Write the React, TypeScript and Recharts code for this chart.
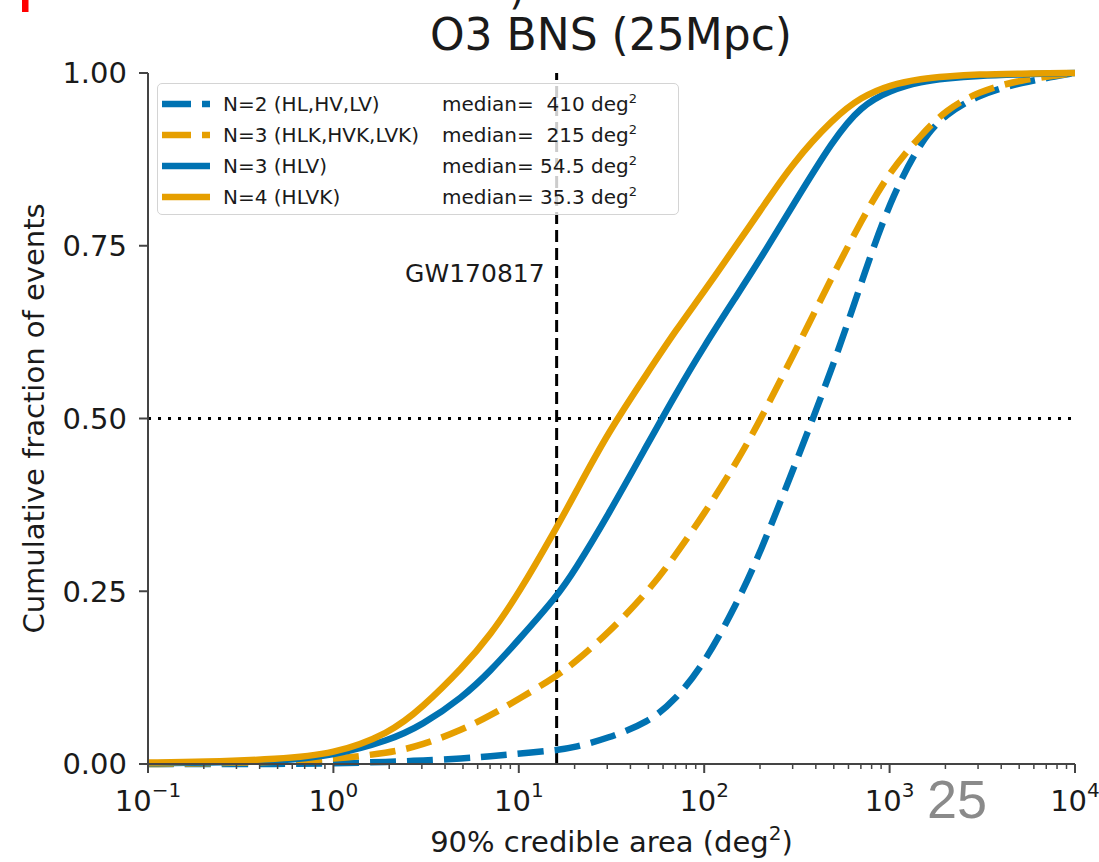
import React from "react"
import {
  LineChart,
  Line,
  XAxis,
  YAxis,
  ReferenceLine,
  Legend,
} from "recharts"

// 90% credible area (deg^2), sampled on the log axis
const areas = [0.1, 0.2, 0.5, 1, 2, 3, 5, 7, 10, 16, 20, 30, 50, 70, 100, 150, 200, 300, 500, 700, 1000, 1500, 2000, 3000, 5000, 10000]

// cumulative fraction of events
const twoDet = [0, 0, 0, 0.001, 0.003, 0.005, 0.008, 0.011, 0.015, 0.02, 0.024, 0.037, 0.06, 0.093, 0.145, 0.232, 0.305, 0.424, 0.578, 0.695, 0.815, 0.905, 0.94, 0.968, 0.986, 1.0]
const threeDetK = [0, 0.001, 0.003, 0.007, 0.016, 0.027, 0.05, 0.07, 0.094, 0.127, 0.147, 0.188, 0.25, 0.302, 0.362, 0.437, 0.497, 0.59, 0.71, 0.785, 0.858, 0.912, 0.946, 0.973, 0.99, 1.0]
const threeDet = [0.001, 0.002, 0.004, 0.012, 0.034, 0.056, 0.097, 0.134, 0.18, 0.242, 0.28, 0.358, 0.465, 0.535, 0.605, 0.678, 0.73, 0.808, 0.905, 0.952, 0.975, 0.988, 0.992, 0.996, 0.998, 1.0]
const fourDet = [0.002, 0.003, 0.007, 0.014, 0.044, 0.081, 0.14, 0.186, 0.247, 0.342, 0.39, 0.478, 0.568, 0.627, 0.684, 0.752, 0.8, 0.87, 0.935, 0.965, 0.983, 0.992, 0.995, 0.998, 0.999, 1.0]

const seriesNames = ["N=2 (HL,HV,LV)", "N=3 (HLK,HVK,LVK)", "N=3 (HLV)", "N=4 (HLVK)"]
const medians = ["410", "215", "54.5", "35.3"]

const decadeTicks = [0.1, 1, 10, 100, 1000, 10000]
const decadeExps = ["\u22121", "0", "1", "2", "3", "4"]
const yTicks = [0, 0.25, 0.5, 0.75, 1]
const gwArea = 16

const minorTicks = decadeTicks.slice(0, -1).flatMap((d) =>
  [2, 3, 4, 5, 6, 7, 8, 9].map((m) => m * d)
)

const data = areas.map((a, i) => ({
  area: a,
  twoDet: twoDet[i],
  threeDetK: threeDetK[i],
  threeDet: threeDet[i],
  fourDet: fourDet[i],
}))

const BLUE = "#0072B2"
const ORANGE = "#E69F00"
const INK = "#1a1a1a"
const FRAME = "#444"
const FONT = "DejaVu Sans, sans-serif"

const series = [
  { key: "twoDet", color: BLUE, dash: "26 11" },
  { key: "threeDetK", color: ORANGE, dash: "26 11" },
  { key: "threeDet", color: BLUE, dash: undefined },
  { key: "fourDet", color: ORANGE, dash: undefined },
]

function AreaTick(props: any) {
  const { x, y, payload } = props
  const i = decadeTicks.indexOf(payload.value)
  if (i < 0) {
    return <line x1={x} x2={x} y1={y} y2={y + 5} stroke={FRAME} strokeWidth={1.5} />
  }
  return (
    <g>
      <line x1={x} x2={x} y1={y} y2={y + 9} stroke={FRAME} strokeWidth={2} />
      <text x={x} y={y + 47} textAnchor="middle" fontSize={29} fill={INK} fontFamily={FONT}>
        10
        <tspan dy={-14} fontSize={20}>
          {decadeExps[i]}
        </tspan>
      </text>
    </g>
  )
}

function XLabel(props: any) {
  const vb = props.viewBox
  return (
    <text x={vb.x + vb.width / 2} y={vb.y + 88} textAnchor="middle" fontSize={29} fill={INK} fontFamily={FONT}>
      90% credible area (deg
      <tspan dy={-12} fontSize={20}>2</tspan>
      <tspan dy={12}>)</tspan>
    </text>
  )
}

function YLabel(props: any) {
  const vb = props.viewBox
  const cy = vb.y + vb.height / 2
  return (
    <text x={44} y={cy} transform={`rotate(-90, 44, ${cy})`} textAnchor="middle" fontSize={29} fill={INK} fontFamily={FONT}>
      Cumulative fraction of events
    </text>
  )
}

function GwLabel(props: any) {
  const vb = props.viewBox
  return (
    <text x={vb.x - 12} y={vb.y + 209} textAnchor="end" fontSize={25} fill={INK} fontFamily={FONT}>
      GW170817
    </text>
  )
}

function LegendBox() {
  return (
    <div
      style={{
        width: 522,
        height: 132,
        boxSizing: "border-box",
        border: "1.5px solid #d4d4d4",
        borderRadius: 5,
        background: "rgba(255,255,255,0.8)",
        fontFamily: FONT,
        fontSize: 20,
        color: INK,
        position: "relative",
      }}
    >
      {series.map((s, i) => (
        <div key={s.key} style={{ position: "absolute", left: 0, top: 5 + i * 31, height: 30, width: "100%", lineHeight: "30px" }}>
          <svg width={60} height={30} style={{ position: "absolute", left: 0, top: 0 }}>
            <line x1={4} x2={52} y1={15} y2={15} stroke={s.color} strokeWidth={6.5} strokeDasharray={s.dash ? "29 11" : undefined} />
          </svg>
          <span style={{ position: "absolute", left: 65, top: 0, whiteSpace: "pre" }}>{seriesNames[i]}</span>
          <span style={{ position: "absolute", left: 284, top: 0, whiteSpace: "pre" }}>
            {"median= " + medians[i].padStart(4) + " deg"}
            <span style={{ fontSize: 13, position: "relative", top: -8 }}>2</span>
          </span>
        </div>
      ))}
    </div>
  )
}

export default function App() {
  return (
    <div style={{ position: "absolute", left: 0, top: 0, width: 1099, height: 862 }}>
      <LineChart width={1099} height={862} data={data} margin={{ top: 73, right: 24, bottom: 0, left: 0 }}>
        <XAxis
          dataKey="area"
          type="number"
          scale="log"
          domain={[0.1, 10000]}
          allowDataOverflow
          ticks={[...decadeTicks, ...minorTicks]}
          interval={0}
          tick={<AreaTick />}
          tickLine={false}
          tickSize={0}
          tickMargin={0}
          height={98}
          axisLine={{ stroke: FRAME, strokeWidth: 2 }}
          label={<XLabel />}
        />
        <XAxis
          xAxisId="top"
          orientation="top"
          dataKey="area"
          type="number"
          scale="log"
          domain={[0.1, 10000]}
          allowDataOverflow
          height={0}
          tick={false}
          tickLine={false}
          axisLine={{ stroke: FRAME, strokeWidth: 2 }}
        />
        <YAxis
          type="number"
          domain={[0, 1]}
          ticks={yTicks}
          interval={0}
          tickFormatter={(v: number) => v.toFixed(2)}
          width={148}
          tickSize={9}
          tickMargin={12}
          tick={{ fontSize: 29, fill: INK, fontFamily: FONT }}
          tickLine={{ stroke: FRAME, strokeWidth: 2 }}
          axisLine={{ stroke: FRAME, strokeWidth: 2 }}
          label={<YLabel />}
        />
        <YAxis
          yAxisId="right"
          orientation="right"
          type="number"
          domain={[0, 1]}
          width={0}
          tick={false}
          tickLine={false}
          axisLine={{ stroke: FRAME, strokeWidth: 2 }}
        />
        <ReferenceLine y={0.5} stroke="#000" strokeWidth={3} strokeDasharray="3 7" />
        <ReferenceLine x={gwArea} stroke="#000" strokeWidth={3} strokeDasharray="12 6" label={<GwLabel />} />
        {series.map((s) => (
          <Line
            key={s.key}
            dataKey={s.key}
            type="basis"
            stroke={s.color}
            strokeWidth={6.5}
            strokeDasharray={s.dash}
            dot={false}
            activeDot={false}
            isAnimationActive={false}
          />
        ))}
        <Legend
          layout="vertical"
          align="center"
          verticalAlign="middle"
          content={<LegendBox />}
          wrapperStyle={{ position: "absolute", left: 157, top: 83, width: 522, height: 132 }}
        />
      </LineChart>
      <svg width={1099} height={862} style={{ position: "absolute", left: 0, top: 0, pointerEvents: "none" }}>
        <rect x={22} y={0} width={6.5} height={12} fill="#ff0000" />
        <text x={517} y={4} textAnchor="middle" fontSize={40} fill={INK} fontFamily={FONT}>)</text>
        <text x={611} y={50} textAnchor="middle" fontSize={44} fill={INK} fontFamily={FONT}>
          O3 BNS (25Mpc)
        </text>
        <text x={927} y={818} fontSize={54} fill="#8a8a8a" fontFamily="Liberation Sans, Arial, sans-serif">
          25
        </text>
      </svg>
    </div>
  )
}
